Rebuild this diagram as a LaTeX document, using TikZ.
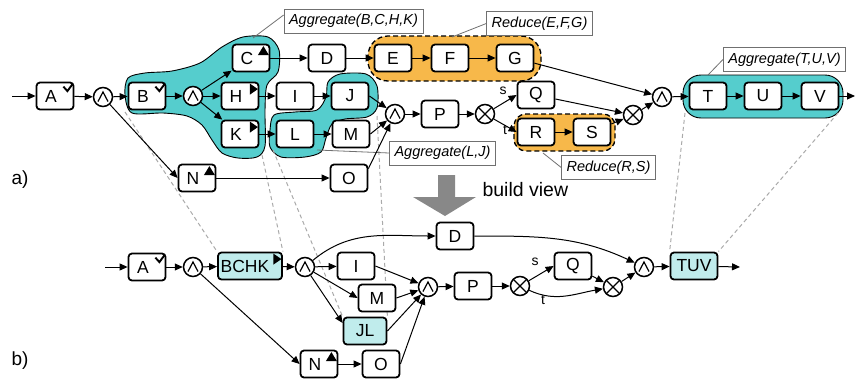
\documentclass[tikz,border=0pt]{standalone}
\usepackage{fontspec}
\setmainfont{Liberation Sans}
\usetikzlibrary{arrows.meta,calc,backgrounds}
\definecolor{aggc}{HTML}{55CDCD}
\definecolor{redc}{HTML}{F7B84A}
\definecolor{viewc}{HTML}{C0ECEC}
\definecolor{dashc}{HTML}{AAAAAA}
\definecolor{leadc}{HTML}{707070}
\definecolor{arrc}{HTML}{888888}
\newcommand\mkchk[1]{\draw[line width=1.9pt] ($(#1.north east)+(-11,-5)$) -- ++(4,-4.5) -- ++(5.5,7.5);}
\newcommand\mkup[1]{\fill ($(#1.north east)+(-12.5,-11.5)$) -- ++(11,0) -- ++(-5.5,9) -- cycle;}
\newcommand\mkright[1]{\fill ($(#1.north east)+(-9.5,-2)$) -- ++(0,-11) -- ++(8,5.5) -- cycle;}
\begin{document}
\begin{tikzpicture}[x=1pt,y=1pt,
 box/.style={draw=black, line width=1.8pt, rounded corners=3.5pt, fill=white, minimum width=37pt, minimum height=27pt, inner sep=1pt, font=\fontsize{17.5}{20}\selectfont},
 vbox/.style={box, fill=viewc},
 gate/.style={draw=black, line width=1.5pt, circle, fill=white, minimum size=19pt, inner sep=0pt},
 andg/.style={gate, path picture={\draw[line width=1.2pt, shift={(path picture bounding box.center)}] (-5pt,-4.5pt)--(0pt,5pt)--(5pt,-4.5pt);}},
 xorg/.style={gate, path picture={\draw[line width=1.2pt, shift={(path picture bounding box.center)}] (-7pt,-7pt)--(7pt,7pt) (-7pt,7pt)--(7pt,-7pt);}},
 flow/.style={-{Triangle[length=8pt,width=7pt]}, line width=1pt},
 lab/.style={draw=leadc, line width=0.8pt, fill=white, inner xsep=5pt, minimum height=24pt, font=\fontsize{14.5}{17}\selectfont\itshape},
 lead/.style={draw=leadc, line width=0.8pt},
 ghost/.style={draw=dashc, line width=1pt, dash pattern=on 4pt off 3pt},
 agg/.style={fill=aggc, draw=black, line width=0.9pt},
 redblob/.style={fill=redc, draw=black, line width=1.3pt, dash pattern=on 5pt off 3pt},
 elabel/.style={font=\fontsize{14}{16}\selectfont},
 tag/.style={font=\fontsize{19}{22}\selectfont},
]
\useasboundingbox (0,0) rectangle (855,-378);

% ---------- a) nodes
\node[box] (A) at (55,-96) {A\kern8pt};
\node[andg] (a1) at (103,-97) {};
\node[box] (B) at (147,-96) {B\kern8pt};
\node[andg] (a2) at (193,-96) {};
\node[box] (C) at (251,-58) {C\kern8pt};
\node[box] (H) at (240,-96) {H\kern8pt};
\node[box] (K) at (240,-134) {K\kern8pt};
\node[box] (D) at (327,-58) {D};
\node[box] (E) at (393,-58) {E};
\node[box] (F) at (450,-58) {F};
\node[box] (G) at (515,-58) {G};
\node[box] (I) at (295,-96) {I};
\node[box] (J) at (350,-96) {J};
\node[box] (L) at (295,-134) {L};
\node[box] (M) at (351,-134) {M};
\node[box] (N) at (197,-178) {N\kern8pt};
\node[box] (O) at (349,-178) {O};
\node[andg] (a3) at (395,-114) {};
\node[box] (P) at (440,-114) {P};
\node[xorg] (x1) at (485,-114) {};
\node[box] (Q) at (536,-95) {Q};
\node[box] (R) at (536,-132) {R};
\node[box] (S) at (592,-132) {S};
\node[xorg] (x2) at (633,-115) {};
\node[andg] (a4) at (662,-97) {};
\node[box] (T) at (708,-96) {T};
\node[box] (U) at (763,-96) {U};
\node[box] (V) at (820,-96) {V};
\coordinate (in1) at (12,-96);
\coordinate (out1) at (855,-96);

% ---------- b) nodes
\node[box] (A2) at (147,-267) {A\kern8pt};
\node[andg] (b1) at (193,-267) {};
\node[vbox, minimum width=64pt] (BCHK) at (250,-266) {BCHK\kern10pt};
\node[andg] (b2) at (305,-267) {};
\node[box] (I2) at (356,-266) {I};
\node[box] (M2) at (377,-298) {M};
\node[vbox, minimum width=43pt] (JL) at (365,-331) {JL};
\node[box] (N2) at (319,-364) {N\kern8pt};
\node[box] (O2) at (381,-364) {O};
\node[andg] (b3) at (428,-287) {};
\node[box] (P2) at (473,-286) {P};
\node[xorg] (y1) at (520,-286) {};
\node[box] (Q2) at (573,-266) {Q};
\node[xorg] (y2) at (613,-287) {};
\node[andg] (b4) at (644,-267) {};
\node[vbox, minimum width=47pt] (TUV) at (694,-266) {TUV};
\node[box] (D2) at (455,-236) {D};
\coordinate (in2) at (105,-267);
\coordinate (out2) at (740,-267);

% marks
\mkchk{A} \mkchk{B} \mkchk{A2}
\mkup{C} \mkup{N} \mkup{N2}
\mkright{H} \mkright{K} \mkright{BCHK}

% ---------- background: blobs and ghost lines
\begin{pgfonlayer}{background}
\draw[agg] plot[smooth cycle, tension=0.5] coordinates {(125,-95) (128,-78) (145,-73) (172,-71) (200,-63) (222,-47) (243,-37) (268,-37) (279,-50) (278,-72) (267,-85) (265,-110) (265,-146) (257,-157) (238,-158) (222,-153) (212,-140) (202,-125) (187,-116) (163,-113) (132,-113)};
\draw[agg] plot[smooth cycle, tension=0.5] coordinates {(270,-130) (274,-115) (295,-112) (317,-110) (326,-97) (328,-82) (340,-74) (366,-74) (377,-86) (377,-108) (367,-117) (345,-119) (332,-124) (326,-138) (321,-152) (305,-157) (281,-157) (270,-147)};
\draw[agg, rounded corners=18pt] (683,-75) rectangle (843,-118);
\draw[redblob, rounded corners=20pt] (368,-36) rectangle (541,-81);
\draw[redblob, rounded corners=12pt] (514,-114) rectangle (615,-151);

\coordinate (g1) at (125,-112);
\coordinate (g2) at (262,-155);
\coordinate (g3) at (273,-150);
\coordinate (g4) at (377,-116);
\coordinate (g5) at (685,-113);
\coordinate (g6) at (838,-113);
\draw[ghost] (g1) -- (BCHK.north west);
\draw[ghost] (g2) -- (BCHK.north east);
\draw[ghost] (g3) -- (JL.north west);
\draw[ghost] (g4) -- (JL.north east);
\draw[ghost] (g5) -- (TUV.north west);
\draw[ghost] (g6) -- (TUV.north east);
\end{pgfonlayer}

% ---------- labels
\node[lab] (lab1) at (353.5,-21) {Aggregate(B,C,H,K)};
\node[lab] (lab2) at (539.5,-23.5) {Reduce(E,F,G)};
\node[lab] (lab3) at (784.5,-59.5) {Aggregate(T,U,V)};
\node[lab] (lab4) at (442.5,-153) {Aggregate(L,J)};
\node[lab] (lab5) at (608.5,-167.5) {Reduce(R,S)};
\coordinate (c1) at (253,-38);
\coordinate (c2) at (452,-37);
\coordinate (c3) at (708,-75);
\coordinate (c4) at (317,-150);
\coordinate (c5) at (543,-153);
\draw[lead] (c1) -- ($(lab1.west)+(0,6)$);
\draw[lead] (c2) -- (lab2.west);
\draw[lead] (c3) -- (lab3.west);
\draw[lead] (c4) -- (lab4.west);
\draw[lead] (c5) -- (lab5.west);

% ---------- a) connectors
\draw[flow] (in1) -- (A);
\draw[flow] (A) -- (a1);
\draw[flow] (a1) -- (B);
\draw[flow] (B) -- (a2);
\draw[flow] (a2) -- (C);
\draw[flow] (a2) -- (H);
\draw[flow] (a2) -- (K);
\draw[flow] (C) -- (D);
\draw[flow] (D) -- (E);
\draw[flow] (E) -- (F);
\draw[flow] (F) -- (G);
\draw[flow] (G) -- (a4);
\draw[flow] (H) -- (I);
\draw[flow] (I) -- (J);
\draw[flow] (J.east) -- (a3);
\draw[flow] (K) -- (L);
\draw[flow] (L) -- (M);
\draw[flow] (M.east) -- (a3);
\draw[flow] (a1) -- (N.west);
\draw[flow] (N) -- (O);
\draw[flow] ($(O.north east)+(0,-5)$) -- (a3);
\draw[flow] (a3) -- (P);
\draw[flow] (P) -- (x1);
\draw[flow] (x1) -- (Q.west);
\draw[flow] (x1) -- (R.west);
\draw[flow] (R) -- (S);
\draw[flow] (S) -- (x2);
\draw[flow] (Q) -- (x2);
\draw[flow] (x2) -- (a4);
\draw[flow] (a4) -- (T);
\draw[flow] (T) -- (U);
\draw[flow] (U) -- (V);
\draw[flow] (V) -- (out1);
\node[elabel] at (503,-91) {s};
\node[elabel] at (505,-130) {t};

% ---------- b) connectors
\draw[flow] (in2) -- (A2);
\draw[flow] (A2) -- (b1);
\draw[flow] (b1) -- (BCHK);
\draw[flow] (BCHK) -- (b2);
\draw[flow] (b2) -- (I2);
\draw[flow] (b2) -- (M2.west);
\draw[flow] (b2) -- ($(JL.west)+(0,8)$);
\draw[flow] (b2) to[out=40,in=180] (D2.west);
\draw[flow] (b1) -- (N2.west);
\draw[flow] (N2) -- (O2);
\draw[flow] (I2.east) -- (b3);
\draw[flow] (M2.east) -- (b3);
\draw[flow] (JL.east) -- (b3);
\draw[flow] (O2.east) -- (b3);
\draw[flow] (b3) -- (P2);
\draw[flow] (P2) -- (y1);
\draw[flow] (y1) -- (Q2.west);
\draw[flow] (y1) to[out=-25,in=190] (y2);
\draw[flow] (Q2) -- (y2);
\draw[flow] (D2.east) to[out=0,in=155] (b4);
\draw[flow] (y2) -- (b4);
\draw[flow] (b4) -- (TUV);
\draw[flow] (TUV) -- (out2);
\node[elabel] at (535,-262) {s};
\node[elabel] at (543,-300) {t};

% ---------- build view arrow
\fill[arrc] (438,-175) -- (455,-175) -- (455,-197) -- (476,-197) -- (445,-216) -- (413,-197) -- (438,-197) -- cycle;
\node[anchor=west, font=\fontsize{19.5}{22}\selectfont] (bv) at (479,-190) {build view};

\node[tag] (ta) at (20,-180) {a)};
\node[tag] (tb) at (20,-361) {b)};
\end{tikzpicture}
\end{document}
